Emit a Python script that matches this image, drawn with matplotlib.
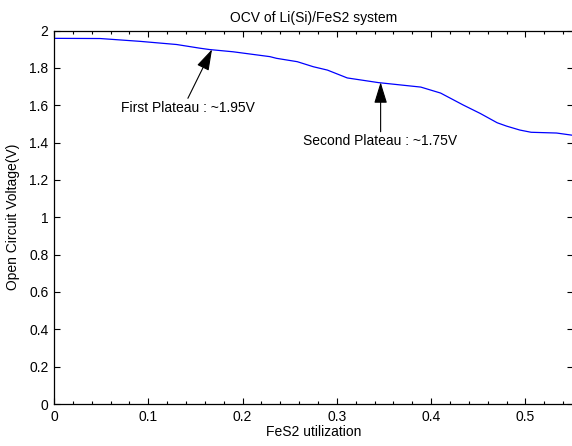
import matplotlib
matplotlib.use("Agg")
import matplotlib.pyplot as plt
from matplotlib.ticker import MultipleLocator

plt.rcParams["font.family"] = ["Liberation Sans", "DejaVu Sans"]
plt.rcParams["font.size"] = 10

# values
utilization = [0.0, 0.049, 0.091, 0.130, 0.155, 0.165, 0.190, 0.229, 0.236,
               0.258, 0.275, 0.290, 0.311, 0.344, 0.389, 0.410, 0.434, 0.452,
               0.470, 0.480, 0.494, 0.506, 0.533, 0.550]
ocv = [1.958, 1.957, 1.942, 1.925, 1.905, 1.898, 1.886, 1.860, 1.851,
       1.833, 1.806, 1.788, 1.746, 1.721, 1.697, 1.665, 1.601, 1.556,
       1.506, 1.488, 1.467, 1.455, 1.451, 1.439]

yticks = [0, 0.2, 0.4, 0.6, 0.8, 1, 1.2, 1.4, 1.6, 1.8, 2]
ytick_labels = ["0", "0.2", "0.4", "0.6", "0.8", "1", "1.2", "1.4", "1.6", "1.8", "2"]
xticks = [0, 0.1, 0.2, 0.3, 0.4, 0.5]
xtick_labels = ["0", "0.1", "0.2", "0.3", "0.4", "0.5"]

# (label, arrow tip, arrow tail, text position)
notes = [
    ("First Plateau : ~1.95V", (0.1676, 1.899), (0.142, 1.637), (0.1416, 1.585)),
    ("Second Plateau : ~1.75V", (0.3464, 1.723), (0.3464, 1.458), (0.3462, 1.407)),
]

fig = plt.figure(figsize=(5.72, 4.46), dpi=100)
ax = fig.add_axes([54 / 572, 42 / 446, 518.6 / 572, 373.5 / 446])

ax.plot(utilization, ocv, color="#0000ff", lw=0.9)

for label, tip, tail, pos in notes:
    ax.annotate(
        "", xy=tip, xytext=tail,
        arrowprops=dict(arrowstyle="-|>,head_length=0.65,head_width=0.2",
                        color="black", lw=0.8, mutation_scale=20,
                        shrinkA=0, shrinkB=0),
    )
    ax.text(pos[0], pos[1], label, ha="center", va="center")

ax.set_xlim(0, 0.55)
ax.set_ylim(0, 2)
ax.set_xticks(xticks)
ax.set_xticklabels(xtick_labels)
ax.set_yticks(yticks)
ax.set_yticklabels(ytick_labels)
ax.xaxis.set_minor_locator(MultipleLocator(0.02))
ax.tick_params(which="both", direction="in", top=True, right=True, width=0.8)
ax.tick_params(which="major", length=4, pad=4)
ax.tick_params(which="minor", length=2)
for s in ax.spines.values():
    s.set_linewidth(0.9)

ax.set_title("OCV of Li(Si)/FeS2 system", fontsize=10, pad=6)
ax.set_xlabel("FeS2 utilization")
ax.set_ylabel("Open Circuit Voltage(V)")
ax.xaxis.set_label_coords(0.5, -0.055)
ax.yaxis.set_label_coords(-0.065, 0.5)

fig.savefig("out.png", dpi=100)
